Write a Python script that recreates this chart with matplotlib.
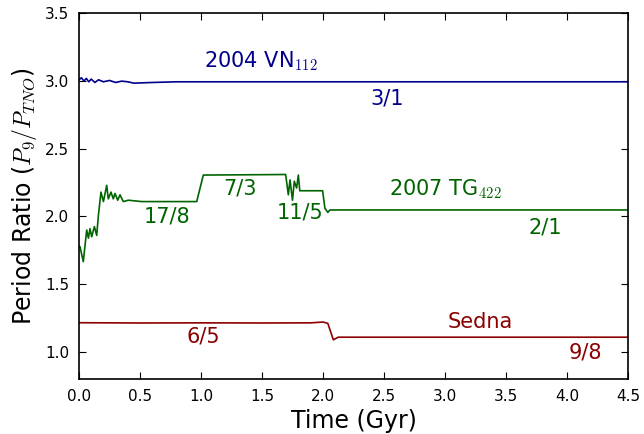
import numpy as np
import matplotlib
matplotlib.use("Agg")
import matplotlib.pyplot as plt

plt.rcParams['mathtext.fontset'] = 'cm'
plt.rcParams['font.family'] = 'DejaVu Sans'

# --- 2004 VN112 (bleu) ---
t_vn = [0.0, 0.02, 0.04, 0.06, 0.08, 0.10, 0.13, 0.16, 0.20, 0.25, 0.30, 0.35, 0.40,
        0.45, 0.6, 0.8, 1.0, 1.5, 2.0, 2.5, 3.0, 3.5, 4.0, 4.5]
p_vn = [3.01, 3.025, 3.0, 3.02, 2.995, 3.015, 2.99, 3.01, 2.995, 3.005, 2.99, 3.0, 2.995,
        2.985, 2.99, 2.995, 2.995, 2.995, 2.995, 2.995, 2.995, 2.995, 2.995, 2.995]

# --- 2007 TG422 (vert) ---
t_tg = [0.0, 0.008, 0.035, 0.063, 0.077, 0.09, 0.104, 0.126, 0.145, 0.158, 0.18, 0.2,
        0.227, 0.24, 0.262, 0.281, 0.295, 0.317, 0.336, 0.363, 0.404, 0.514, 0.965,
        1.019, 1.694, 1.716, 1.73, 1.75, 1.765, 1.784, 1.798, 1.81, 1.997, 2.016,
        2.04, 2.057, 3.0, 4.5]
p_tg = [1.78, 1.777, 1.666, 1.90, 1.84, 1.91, 1.85, 1.925, 1.86, 2.0, 2.18, 2.11,
        2.23, 2.13, 2.18, 2.13, 2.17, 2.12, 2.16, 2.11, 2.12, 2.11, 2.11,
        2.306, 2.31, 2.16, 2.27, 2.12, 2.26, 2.21, 2.306, 2.19, 2.19, 2.06,
        2.03, 2.048, 2.048, 2.048]

# --- Sedna (rouge) ---
t_se = [0.0, 0.5, 1.0, 1.5, 1.9, 2.0, 2.04, 2.085, 2.125, 3.0, 4.5]
p_se = [1.215, 1.213, 1.214, 1.213, 1.214, 1.22, 1.21, 1.089, 1.108, 1.108, 1.108]

bleu = '#00008b'
vert = '#006400'
rouge = '#8b0000'

fig = plt.figure(figsize=(6.44, 4.34), dpi=100)
ax = fig.add_axes([0.1227, 0.127, 0.8523, 0.842])

ax.plot(t_vn, p_vn, color=bleu, lw=1.2)
ax.plot(t_tg, p_tg, color=vert, lw=1.2)
ax.plot(t_se, p_se, color=rouge, lw=1.2)

# Annotations
ax.text(1.49, 3.15, r'2004 VN$_{112}$', color=bleu, fontsize=15, ha='center', va='center')
ax.text(2.53, 2.87, '3/1', color=bleu, fontsize=15, ha='center', va='center')
ax.text(0.72, 2.0, '17/8', color=vert, fontsize=15, ha='center', va='center')
ax.text(1.32, 2.21, '7/3', color=vert, fontsize=15, ha='center', va='center')
ax.text(1.81, 2.03, '11/5', color=vert, fontsize=15, ha='center', va='center')
ax.text(3.0, 2.2, r'2007 TG$_{422}$', color=vert, fontsize=15, ha='center', va='center')
ax.text(3.82, 1.92, '2/1', color=vert, fontsize=15, ha='center', va='center')
ax.text(3.29, 1.22, 'Sedna', color=rouge, fontsize=15, ha='center', va='center')
ax.text(1.02, 1.11, '6/5', color=rouge, fontsize=15, ha='center', va='center')
ax.text(4.15, 0.995, '9/8', color=rouge, fontsize=15, ha='center', va='center')

ax.set_xlim(0, 4.5)
ax.set_ylim(0.8, 3.5)
ax.set_xticks(np.arange(0, 4.51, 0.5))
ax.set_yticks(np.arange(1.0, 3.51, 0.5))
ax.tick_params(direction='in', top=True, right=True, labelsize=11, length=5, pad=7)
ax.set_xlabel('Time (Gyr)', fontsize=17)
ax.set_ylabel(r'Period Ratio ($P_9/P_{TNO}$)', fontsize=17)
for s in ax.spines.values():
    s.set_linewidth(1.2)

plt.savefig('out.png', dpi=100)
